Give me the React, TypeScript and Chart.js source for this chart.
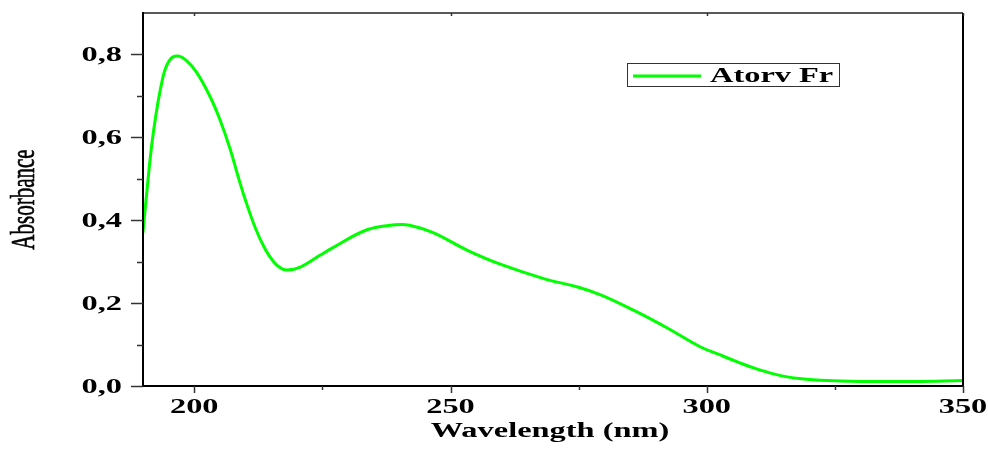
import React, { useEffect, useRef } from "react";
import { Chart, registerables } from "chart.js";

Chart.register(...registerables);

const wavelengths = [
  190, 190.6, 192, 193.9, 195.3, 196.8, 198.5, 200.5, 203.1, 205, 207, 208.5,
  209.9, 211.9, 213.8, 215.4, 216.8, 218.1, 220.7, 224.6, 226.8, 233.7, 239.2,
  242, 246.6, 253.2, 259.7, 268.5, 274.8, 279.3, 285.7, 292.3, 298.8, 302, 306,
  310, 314.4, 318, 322.2, 330, 340, 350,
];
const absorbance = [
  0.37, 0.45, 0.61, 0.746, 0.788, 0.796, 0.785, 0.756, 0.698, 0.643, 0.572, 0.508,
  0.452, 0.382, 0.331, 0.301, 0.285, 0.28, 0.287, 0.316, 0.332, 0.377, 0.389,
  0.388, 0.37, 0.328, 0.294, 0.258, 0.239, 0.22, 0.183, 0.14, 0.094, 0.078, 0.058,
  0.04, 0.025, 0.018, 0.014, 0.011, 0.011, 0.013,
];

const seriesName = "Atorv Fr";
const xTitle = "Wavelength (nm)";
const yTitle = "Absorbance";
const xMajorTicks = [200, 250, 300, 350];
const xMinorTicks = [225, 275, 325];
const yMajorTicks = [0, 0.2, 0.4, 0.6, 0.8];
const yMinorTicks = [0.1, 0.3, 0.5, 0.7];
const yTickLabels = ["0,0", "0,2", "0,4", "0,6", "0,8"];

const GREEN = "#00ff00";
const SX = 1.62;

function stretchText(ctx: CanvasRenderingContext2D, text: string, x: number, y: number, align: CanvasTextAlign) {
  ctx.save();
  ctx.translate(x, y);
  ctx.scale(SX, 1);
  ctx.textAlign = align;
  ctx.textBaseline = "alphabetic";
  ctx.fillText(text, 0, 0);
  ctx.restore();
}

const decor = {
  id: "decor",
  afterDraw(chart: any) {
    const ctx: CanvasRenderingContext2D = chart.ctx;
    const { left, right, top, bottom } = chart.chartArea;
    const xs = chart.scales.x;
    const ys = chart.scales.y;
    ctx.save();
    // frame
    ctx.strokeStyle = "#222";
    ctx.lineWidth = 1.5;
    ctx.beginPath();
    ctx.moveTo(left, top);
    ctx.lineTo(right, top);
    ctx.stroke();
    ctx.strokeStyle = "#000";
    ctx.lineWidth = 2;
    ctx.beginPath();
    ctx.moveTo(left, top - 1);
    ctx.lineTo(left, bottom);
    ctx.lineTo(right, bottom);
    ctx.moveTo(right, bottom + 1);
    ctx.lineTo(right, top);
    ctx.stroke();

    // y ticks
    ctx.lineWidth = 1.5;
    ctx.strokeStyle = "#333";
    yMajorTicks.forEach((v) => {
      const py = Math.round(ys.getPixelForValue(v)) + 0.5;
      ctx.beginPath();
      ctx.moveTo(left - 12, py);
      ctx.lineTo(left, py);
      ctx.stroke();
    });
    yMinorTicks.forEach((v) => {
      const py = Math.round(ys.getPixelForValue(v)) + 0.5;
      ctx.beginPath();
      ctx.moveTo(left - 6, py);
      ctx.lineTo(left, py);
      ctx.stroke();
    });
    // x ticks
    xMajorTicks.forEach((v) => {
      const px = Math.round(xs.getPixelForValue(v)) + 0.5;
      ctx.beginPath();
      ctx.moveTo(px, bottom);
      ctx.lineTo(px, bottom + 7);
      ctx.stroke();
      ctx.beginPath();
      ctx.moveTo(px, top);
      ctx.lineTo(px, top + 3);
      ctx.stroke();
    });
    xMinorTicks.forEach((v) => {
      const px = Math.round(xs.getPixelForValue(v)) + 0.5;
      ctx.beginPath();
      ctx.moveTo(px, bottom);
      ctx.lineTo(px, bottom + 4);
      ctx.stroke();
    });

    // tick labels
    ctx.fillStyle = "#000";
    ctx.font = "bold 20px 'Liberation Serif', 'Times New Roman', serif";
    yMajorTicks.forEach((v, i) => {
      const py = ys.getPixelForValue(v);
      stretchText(ctx, yTickLabels[i], left - 21, py + 7, "right");
    });
    xMajorTicks.forEach((v) => {
      const px = xs.getPixelForValue(v);
      stretchText(ctx, String(v), px, bottom + 27, "center");
    });

    // x title
    stretchText(ctx, xTitle, (left + right) / 2 - 3, 437, "center");

    // y title (rotated, glyphs stretched along screen x)
    ctx.save();
    ctx.font = "21px 'Liberation Serif', 'Times New Roman', serif";
    ctx.translate(34, (top + bottom) / 2);
    ctx.rotate(-Math.PI / 2);
    ctx.scale(1, SX);
    ctx.textAlign = "center";
    ctx.textBaseline = "alphabetic";
    ctx.fillText(yTitle, 0, 0);
    ctx.lineWidth = 0.4;
    ctx.strokeStyle = "#000";
    ctx.strokeText(yTitle, 0, 0);
    ctx.restore();

    // legend
    ctx.strokeStyle = "#333";
    ctx.lineWidth = 1;
    ctx.strokeRect(627.5, 63.5, 212, 23);
    ctx.strokeStyle = GREEN;
    ctx.lineWidth = 3;
    ctx.beginPath();
    ctx.moveTo(633, 76);
    ctx.lineTo(701, 76);
    ctx.stroke();
    ctx.fillStyle = "#000";
    ctx.font = "bold 20px 'Liberation Serif', 'Times New Roman', serif";
    stretchText(ctx, seriesName, 710, 82, "left");
    ctx.restore();
  },
};

export default function App() {
  const ref = useRef<HTMLCanvasElement | null>(null);
  useEffect(() => {
    if (!ref.current) return;
    const chart = new Chart(ref.current, {
      type: "line",
      data: {
        datasets: [
          {
            label: seriesName,
            data: wavelengths.map((w, i) => ({ x: w, y: absorbance[i] })),
            borderColor: GREEN,
            borderWidth: 3,
            pointRadius: 0,
            fill: false,
            tension: 0.4,
          },
        ],
      },
      options: {
        animation: false,
        responsive: false,
        devicePixelRatio: 1,
        layout: { padding: { left: 143, right: 25, top: 13, bottom: 64 } },
        plugins: { legend: { display: false }, tooltip: { enabled: false } },
        scales: {
          x: { type: "linear", min: 190, max: 350, display: false },
          y: { type: "linear", min: 0, max: 0.9, display: false },
        },
      },
      plugins: [decor],
    });
    return () => chart.destroy();
  }, []);
  return (
    <div style={{ position: "fixed", left: 0, top: 0, width: 988, height: 450, background: "#fff" }}>
      <canvas ref={ref} width={988} height={450} style={{ width: 988, height: 450 }} />
    </div>
  );
}
